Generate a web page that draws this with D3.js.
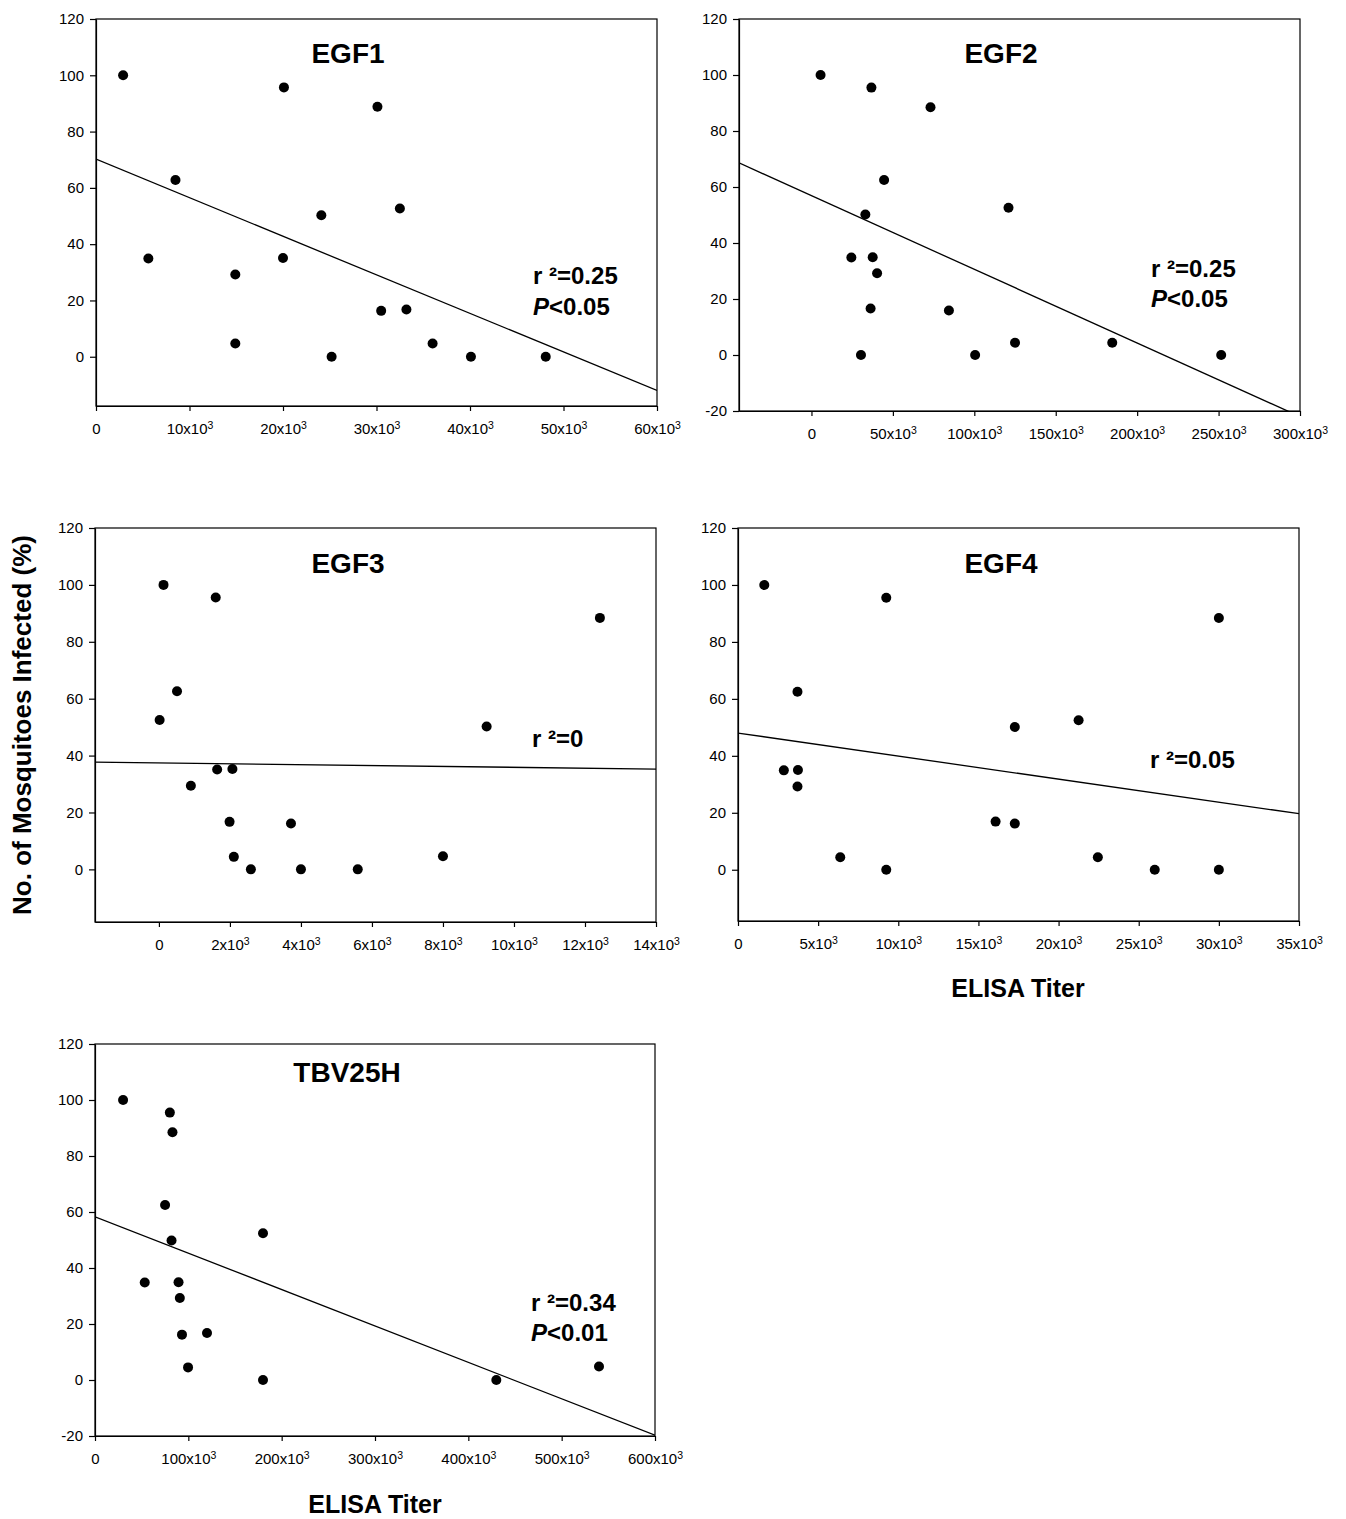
<!DOCTYPE html>
<html>
<head>
<meta charset="utf-8">
<script src="https://cdn.jsdelivr.net/npm/d3@7"></script>
<style>
  body { margin: 0; background: #fff; }
  svg { display: block; font-family: "Liberation Sans", Arial, sans-serif; }
</style>
</head>
<body>
<svg id="chart" width="1346" height="1519"></svg>
<script>
// values: ELISA titer (x) vs % mosquitoes infected (y)
var panelNames = ["EGF1", "EGF2", "EGF3", "EGF4", "TBV25H"];

var egf1Titer = [2900, 20100, 30100, 8500, 24100, 32500, 5600, 20000, 14900, 30500, 33200, 14900, 25200, 36000, 40100, 48100];
var egf1Infected = [100, 95.7, 88.8, 62.8, 50.3, 52.7, 34.9, 35.1, 29.2, 16.3, 16.8, 4.7, 0, 4.7, 0, 0];

var egf2Titer = [5600, 36800, 73100, 44600, 33100, 121000, 24500, 37600, 40300, 36300, 84400, 30400, 100500, 125000, 184700, 251600];
var egf2Infected = [100, 95.5, 88.5, 62.5, 50.2, 52.6, 34.8, 34.9, 29.2, 16.6, 15.9, 0, 0, 4.4, 4.4, 0];

var egf3Titer = [130, 1600, 12420, 510, 20, 9230, 1640, 2070, 900, 1990, 3720, 2110, 2590, 4000, 5600, 8000];
var egf3Infected = [100, 95.6, 88.4, 62.6, 52.5, 50.2, 35.1, 35.3, 29.4, 16.7, 16.1, 4.4, 0, 0, 0, 4.6];

var egf4Titer = [1640, 9250, 30000, 3710, 21250, 17270, 2860, 3740, 3710, 16070, 17270, 6380, 9250, 22450, 26000, 30000];
var egf4Infected = [100, 95.5, 88.4, 62.5, 52.5, 50.1, 34.9, 35.0, 29.2, 16.9, 16.2, 4.4, 0, 4.4, 0, 0];

var tbvTiter = [30100, 80200, 83000, 75100, 180000, 82000, 53300, 89500, 90900, 93200, 120000, 99700, 180000, 430000, 540000];
var tbvInfected = [100, 95.5, 88.5, 62.5, 52.4, 49.8, 34.8, 34.9, 29.3, 16.2, 16.8, 4.5, 0, 0, 4.8];

// fitted regression lines (intercept, slope per titer unit)
var fitIntercept = [70.2, 56.9, 37.4, 48.0, 58.3];
var fitSlope = [-1.37e-3, -2.63e-4, -1.52e-4, -8.09e-4, -1.30e-4];

var rSquaredText = ["r \u00b2=0.25", "r \u00b2=0.25", "r \u00b2=0", "r \u00b2=0.05", "r \u00b2=0.34"];
var pValueText = ["<0.05", "<0.05", null, null, "<0.01"];

var xTicks = [
    [0, 10000, 20000, 30000, 40000, 50000, 60000],
    [0, 50000, 100000, 150000, 200000, 250000, 300000],
    [0, 2000, 4000, 6000, 8000, 10000, 12000, 14000],
    [0, 5000, 10000, 15000, 20000, 25000, 30000, 35000],
    [0, 100000, 200000, 300000, 400000, 500000, 600000]
];
var yTicks = [
    [0, 20, 40, 60, 80, 100, 120],
    [-20, 0, 20, 40, 60, 80, 100, 120],
    [0, 20, 40, 60, 80, 100, 120],
    [0, 20, 40, 60, 80, 100, 120],
    [-20, 0, 20, 40, 60, 80, 100, 120]
];

var titers = [egf1Titer, egf2Titer, egf3Titer, egf4Titer, tbvTiter];
var infected = [egf1Infected, egf2Infected, egf3Infected, egf4Infected, tbvInfected];

/* layout of each panel: pixel box, axis domains, and where the texts sit */
var layout = [
    { x0: 96,  x1: 657,  y0: 406,  y1: 19,   xd: [0, 60000],       yd: [-17.5, 120], title: [348, 63],   stat: [533, 284, 315] },
    { x0: 739, x1: 1300, y0: 411,  y1: 19,   xd: [-44500, 300000], yd: [-20, 120],   title: [1001, 63],  stat: [1151, 277, 307] },
    { x0: 95,  x1: 656,  y0: 922,  y1: 528,  xd: [-1800, 14000],   yd: [-18.5, 120], title: [348, 573],  stat: [532, 747] },
    { x0: 738, x1: 1299, y0: 921,  y1: 528,  xd: [0, 35000],       yd: [-18, 120],   title: [1001, 573], stat: [1150, 768] },
    { x0: 95,  x1: 655,  y0: 1436, y1: 1044, xd: [0, 600000],      yd: [-20, 120],   title: [347, 1082], stat: [531, 1311, 1341] }
];

var svg = d3.select("#chart");

function tickLabel(sel) {
    sel.selectAll(".tick text").each(function (d) {
        var t = d3.select(this);
        t.text(null);
        if (d === 0) {
            t.text("0");
        } else {
            t.append("tspan").text(d / 1000 + "x10");
            t.append("tspan").attr("font-size", 10.5).attr("dy", "-0.45em").text("3");
        }
    });
}

function drawPanel(i) {
    var L = layout[i];
    var x = d3.scaleLinear().domain(L.xd).range([L.x0, L.x1]);
    var y = d3.scaleLinear().domain(L.yd).range([L.y0, L.y1]);
    var g = svg.append("g");

    g.append("clipPath").attr("id", "clip" + i)
        .append("rect")
        .attr("x", L.x0).attr("y", L.y1)
        .attr("width", L.x1 - L.x0).attr("height", L.y0 - L.y1);

    var xAxis = g.append("g")
        .attr("transform", "translate(0," + L.y0 + ")")
        .call(d3.axisBottom(x).tickValues(xTicks[i]).tickSize(5).tickSizeOuter(0).tickPadding(12))
        .call(tickLabel);
    var yAxis = g.append("g")
        .attr("transform", "translate(" + L.x0 + ",0)")
        .call(d3.axisLeft(y).tickValues(yTicks[i]).tickSize(6).tickSizeOuter(0).tickPadding(6)
            .tickFormat(function (d) { return String(d); }));

    [xAxis, yAxis].forEach(function (a) {
        a.attr("font-size", 15).attr("font-family", "'Liberation Sans', Arial, sans-serif");
        a.selectAll("text").attr("fill", "#000");
        a.selectAll("line, path").attr("stroke", "#000").attr("stroke-width", 1.2);
    });

    // frame
    g.append("rect")
        .attr("x", L.x0).attr("y", L.y1)
        .attr("width", L.x1 - L.x0).attr("height", L.y0 - L.y1)
        .attr("fill", "none").attr("stroke", "#000").attr("stroke-width", 1.2);

    // regression line
    g.append("line")
        .attr("clip-path", "url(#clip" + i + ")")
        .attr("x1", x(L.xd[0])).attr("y1", y(fitIntercept[i] + fitSlope[i] * L.xd[0]))
        .attr("x2", x(L.xd[1])).attr("y2", y(fitIntercept[i] + fitSlope[i] * L.xd[1]))
        .attr("stroke", "#000").attr("stroke-width", 1.3);

    var pts = titers[i].map(function (t, k) { return { t: t, v: infected[i][k] }; });
    g.selectAll(".dot").data(pts).enter()
        .append("circle")
        .attr("cx", function (d) { return x(d.t); })
        .attr("cy", function (d) { return y(d.v); })
        .attr("r", 5)
        .attr("fill", "#000");

    g.append("text")
        .attr("x", L.title[0]).attr("y", L.title[1])
        .attr("text-anchor", "middle")
        .attr("font-size", 28).attr("font-weight", "bold")
        .text(panelNames[i]);

    g.append("text")
        .attr("x", L.stat[0]).attr("y", L.stat[1])
        .attr("font-size", 24).attr("font-weight", "bold")
        .text(rSquaredText[i]);

    if (pValueText[i]) {
        var p = g.append("text")
            .attr("x", L.stat[0]).attr("y", L.stat[2])
            .attr("font-size", 24).attr("font-weight", "bold");
        p.append("tspan").attr("font-style", "italic").text("P");
        p.append("tspan").text(pValueText[i]);
    }
}

for (var i = 0; i < panelNames.length; i++) drawPanel(i);

// shared axis titles
svg.append("text")
    .attr("transform", "translate(31,725) rotate(-90)")
    .attr("text-anchor", "middle")
    .attr("font-size", 26).attr("font-weight", "bold")
    .text("No. of Mosquitoes Infected (%)");

svg.append("text")
    .attr("x", 1018).attr("y", 997)
    .attr("text-anchor", "middle")
    .attr("font-size", 25).attr("font-weight", "bold")
    .text("ELISA Titer");

svg.append("text")
    .attr("x", 375).attr("y", 1513)
    .attr("text-anchor", "middle")
    .attr("font-size", 25).attr("font-weight", "bold")
    .text("ELISA Titer");
</script>
</body>
</html>
